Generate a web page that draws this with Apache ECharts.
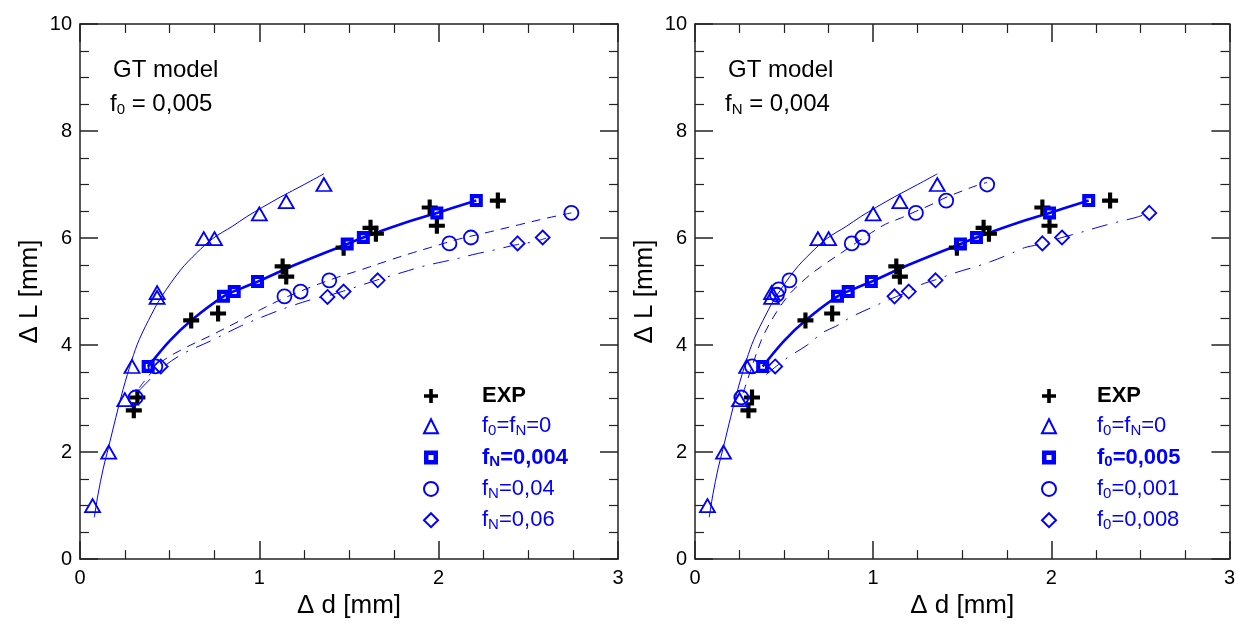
<!DOCTYPE html>
<html>
<head>
<meta charset="utf-8">
<script src="https://cdn.jsdelivr.net/npm/echarts@6/dist/echarts.min.js"></script>
<style>html,body{margin:0;padding:0;background:#fff}#c{width:1238px;height:624px}</style>
</head>
<body>
<div id="c"></div>
<script>
// ---------- data ----------
const xTicks = [0, 1, 2, 3];
const yTicks = [0, 2, 4, 6, 8, 10];

const expX = [0.30, 0.32, 0.62, 0.77, 1.13, 1.15, 1.47, 1.62, 1.65, 1.95, 1.99, 2.33];
const expY = [2.78, 3.02, 4.46, 4.59, 5.47, 5.28, 5.82, 6.19, 6.08, 6.57, 6.23, 6.70];

const triX = [0.07, 0.16, 0.25, 0.29, 0.43, 0.43, 0.69, 0.75, 1.00, 1.15, 1.36];
const triY = [1.00, 2.00, 2.98, 3.60, 4.98, 4.89, 5.99, 5.99, 6.45, 6.68, 7.00];

const sqX = [0.38, 0.80, 0.86, 0.99, 1.49, 1.58, 1.99, 2.21];
const sqY = [3.60, 4.91, 5.00, 5.19, 5.89, 6.01, 6.47, 6.70];

const cirLX = [0.31, 0.42, 1.14, 1.23, 1.39, 2.06, 2.18, 2.74];
const cirLY = [3.02, 3.60, 4.91, 5.00, 5.21, 5.90, 6.01, 6.47];

const diaLX = [0.45, 1.38, 1.47, 1.66, 2.44, 2.58];
const diaLY = [3.60, 4.90, 5.00, 5.21, 5.90, 6.01];

const cirRX = [0.26, 0.32, 0.46, 0.47, 0.53, 0.88, 0.94, 1.24, 1.41, 1.64];
const cirRY = [3.02, 3.60, 4.94, 5.04, 5.21, 5.90, 6.01, 6.47, 6.70, 7.00];

const diaRX = [0.45, 1.12, 1.20, 1.35, 1.95, 2.06, 2.55];
const diaRY = [3.60, 4.91, 5.00, 5.21, 5.90, 6.01, 6.47];

// model curves
const triCurveX = [0.08, 0.10, 0.13, 0.16, 0.20, 0.24, 0.29, 0.33, 0.40, 0.45, 0.56, 0.65, 0.74, 0.85, 0.93, 1.02, 1.12, 1.25, 1.36];
const triCurveY = [0.78, 1.20, 1.70, 2.10, 2.65, 3.17, 3.73, 4.10, 4.58, 4.88, 5.40, 5.72, 5.99, 6.22, 6.40, 6.58, 6.77, 7.00, 7.20];

const sqCurveX = [0.38, 0.50, 0.62, 0.80, 0.90, 1.00, 1.20, 1.49, 1.58, 1.80, 1.99, 2.21];
const sqCurveY = [3.60, 4.08, 4.46, 4.91, 5.06, 5.20, 5.50, 5.89, 6.01, 6.27, 6.47, 6.70];

const cirLCurveX = [0.33, 0.45, 0.57, 0.73, 0.90, 1.00, 1.14, 1.30, 1.43, 1.57, 1.72, 1.86, 1.95, 2.10, 2.29, 2.45, 2.60, 2.74];
const cirLCurveY = [3.20, 3.67, 3.92, 4.18, 4.47, 4.65, 4.88, 5.10, 5.26, 5.41, 5.58, 5.73, 5.82, 5.97, 6.12, 6.25, 6.37, 6.47];

const diaLCurveX = [0.33, 0.45, 0.57, 0.73, 0.90, 1.05, 1.17, 1.30, 1.38, 1.47, 1.67, 1.80, 1.91, 2.00, 2.11, 2.19, 2.30, 2.44, 2.53, 2.60];
const diaLCurveY = [3.15, 3.55, 3.83, 4.08, 4.36, 4.57, 4.72, 4.86, 4.92, 5.01, 5.23, 5.36, 5.47, 5.54, 5.62, 5.69, 5.77, 5.88, 5.93, 6.00];

const cirRCurveX = [0.27, 0.32, 0.38, 0.46, 0.53, 0.60, 0.66, 0.74, 0.82, 0.90, 0.99, 1.07, 1.16, 1.24, 1.33, 1.41, 1.50, 1.58, 1.64];
const cirRCurveY = [3.10, 3.60, 4.15, 4.63, 4.95, 5.18, 5.35, 5.54, 5.72, 5.90, 6.10, 6.26, 6.38, 6.50, 6.63, 6.76, 6.88, 6.98, 7.04];

const diaRCurveX = [0.40, 0.47, 0.53, 0.63, 0.72, 0.79, 0.88, 0.99, 1.09, 1.20, 1.27, 1.35, 1.46, 1.58, 1.66, 1.76, 1.85, 1.93, 2.06, 2.16, 2.25, 2.36, 2.47, 2.55];
const diaRCurveY = [3.45, 3.64, 3.79, 4.00, 4.24, 4.35, 4.53, 4.70, 4.85, 5.00, 5.13, 5.22, 5.35, 5.47, 5.56, 5.69, 5.82, 5.88, 6.01, 6.10, 6.19, 6.29, 6.38, 6.47];

const legendLeft = ['EXP', 'f0=fN=0', 'fN=0,004', 'fN=0,04', 'fN=0,06'];
const legendRight = ['EXP ', 'f0=fN=0 ', 'f0=0,005', 'f0=0,001', 'f0=0,008'];

// ---------- helpers ----------
const FONT = '"Liberation Sans", Arial, sans-serif';
const BLUE = '#0000ff';
const AX = '#222';
const zip = (xs, ys) => xs.map((x, i) => [x, ys[i]]);

const plusPath = 'path://M0,3.7h3.7v-3.7h2.6v3.7h3.7v2.6h-3.7v3.7h-2.6v-3.7h-3.7z';
const sqPath = 'path://M0,0H10V10H0Z M3.2,3.2V6.8H6.8V3.2Z';

function xAxes(gi) {
  const base = {
    gridIndex: gi, type: 'value', min: 0, max: 3, interval: 1,
    axisLine: { show: true, onZero: false, lineStyle: { color: AX, width: 1.5 } },
    axisTick: { show: true, inside: true, length: 18, lineStyle: { color: AX, width: 1.5 } },
    minorTick: { show: true, splitNumber: 4, length: 9, lineStyle: { color: AX, width: 1.2 } },
    splitLine: { show: false }, minorSplitLine: { show: false }
  };
  return [
    Object.assign({}, base, {
      position: 'bottom',
      axisLabel: { fontSize: 20, color: '#000', fontFamily: FONT, margin: 9,
        formatter: v => xTicks.includes(v) ? String(v) : '' },
      name: 'Δ d [mm]', nameLocation: 'middle', nameGap: 33,
      nameTextStyle: { fontSize: 26, color: '#000', fontFamily: FONT }
    }),
    Object.assign({}, base, { position: 'top', axisLabel: { show: false } })
  ];
}
function yAxes(gi) {
  const base = {
    gridIndex: gi, type: 'value', min: 0, max: 10, interval: 2,
    axisLine: { show: true, onZero: false, lineStyle: { color: AX, width: 1.5 } },
    axisTick: { show: true, inside: true, length: 18, lineStyle: { color: AX, width: 1.5 } },
    minorTick: { show: true, splitNumber: 4, length: 9, lineStyle: { color: AX, width: 1.2 } },
    splitLine: { show: false }, minorSplitLine: { show: false }
  };
  return [
    Object.assign({}, base, {
      position: 'left',
      axisLabel: { fontSize: 20, color: '#000', fontFamily: FONT, margin: 8,
        formatter: v => yTicks.includes(v) ? String(v) : '' },
      name: 'Δ L [mm]', nameLocation: 'middle', nameGap: 37, nameRotate: 90,
      nameTextStyle: { fontSize: 26, color: '#000', fontFamily: FONT }
    }),
    Object.assign({}, base, { position: 'right', axisLabel: { show: false } })
  ];
}

function curve(name, gi, xs, ys, width, type) {
  return {
    name, type: 'line', xAxisIndex: gi * 2, yAxisIndex: gi * 2,
    data: zip(xs, ys), showSymbol: false, symbol: 'none', smooth: 0.35,
    lineStyle: { color: BLUE, width, type, opacity: 1 }, z: 2, silent: true
  };
}
function pts(name, gi, xs, ys, symbol, size, style) {
  return {
    name, type: 'scatter', xAxisIndex: gi * 2, yAxisIndex: gi * 2,
    data: zip(xs, ys), symbol, symbolSize: size,
    itemStyle: Object.assign({ opacity: 1 }, style), z: 5
  };
}
const hollow = { color: 'rgba(255,255,255,0)', borderColor: BLUE, borderWidth: 1.8 };

const richBase = {
  n: { fontSize: 22, color: BLUE, fontFamily: FONT, lineHeight: 24 },
  s: { fontSize: 15, color: BLUE, fontFamily: FONT, lineHeight: 14, verticalAlign: 'bottom' },
  b: { fontSize: 22, color: BLUE, fontFamily: FONT, fontWeight: 'bold', lineHeight: 24 },
  bs: { fontSize: 15, color: BLUE, fontFamily: FONT, fontWeight: 'bold', lineHeight: 14, verticalAlign: 'bottom' },
  k: { fontSize: 22, color: '#000', fontFamily: FONT, fontWeight: 'bold', lineHeight: 24 }
};
const legendRich = {
  'EXP': '{k|EXP}', 'EXP ': '{k|EXP}',
  'f0=fN=0': '{n|f}{s|0}{n|=f}{s|N}{n|=0}', 'f0=fN=0 ': '{n|f}{s|0}{n|=f}{s|N}{n|=0}',
  'fN=0,004': '{b|f}{bs|N}{b|=0,004}',
  'fN=0,04': '{n|f}{s|N}{n|=0,04}',
  'fN=0,06': '{n|f}{s|N}{n|=0,06}',
  'f0=0,005': '{b|f}{bs|0}{b|=0,005}',
  'f0=0,001': '{n|f}{s|0}{n|=0,001}',
  'f0=0,008': '{n|f}{s|0}{n|=0,008}'
};
function legend(left, data, pad) {
  return {
    orient: 'vertical', left, top: 380, itemWidth: 14, itemHeight: 14, itemGap: 8.3,
    data, selectedMode: false,
    formatter: n => legendRich[n],
    textStyle: { padding: [0, 0, 0, pad], rich: richBase }
  };
}

function annot(x, sub, val) {
  return [
    { type: 'text', x: x + 3, y: 70, style: { text: 'GT model', fontSize: 24, fontFamily: FONT, fill: '#000', verticalAlign: 'middle' } },
    { type: 'text', x: x, y: 104, style: { text: '{m|f}{s|' + sub + '}{m| = ' + val + '}', verticalAlign: 'middle',
        rich: { m: { fontSize: 24, fontFamily: FONT, color: '#000', lineHeight: 26 },
                s: { fontSize: 15, fontFamily: FONT, color: '#000', lineHeight: 14, verticalAlign: 'bottom' } } } }
  ];
}

const option = {
  animation: false,
  backgroundColor: '#fff',
  grid: [
    { left: 80, top: 24, width: 538, height: 536 },
    { left: 695, top: 24, width: 537, height: 536 }
  ],
  xAxis: [...xAxes(0), ...xAxes(1)],
  yAxis: [...yAxes(0), ...yAxes(1)],
  legend: [legend(418, legendLeft, 39), legend(1036, legendRight, 36)],
  graphic: [...annot(110, '0', '0,005'), ...annot(725, 'N', '0,004')],
  series: [
    // left
    curve('triCurveL', 0, triCurveX, triCurveY, 1, 'solid'),
    curve('cirCurveL', 0, cirLCurveX, cirLCurveY, 1, [9, 7]),
    curve('diaCurveL', 0, diaLCurveX, diaLCurveY, 1, [16, 9, 2, 9]),
    curve('sqCurveL', 0, sqCurveX, sqCurveY, 2.6, 'solid'),
    pts('EXP', 0, expX, expY, plusPath, 16, { color: '#000' }),
    pts('f0=fN=0', 0, triX, triY, 'triangle', [15, 13], hollow),
    pts('fN=0,004', 0, sqX, sqY, sqPath, 13, { color: BLUE }),
    pts('fN=0,04', 0, cirLX, cirLY, 'circle', 14, hollow),
    pts('fN=0,06', 0, diaLX, diaLY, 'diamond', 14, hollow),
    // right
    curve('triCurveR', 1, triCurveX, triCurveY, 1, 'solid'),
    curve('cirCurveR', 1, cirRCurveX, cirRCurveY, 1, [9, 7]),
    curve('diaCurveR', 1, diaRCurveX, diaRCurveY, 1, [16, 9, 2, 9]),
    curve('sqCurveR', 1, sqCurveX, sqCurveY, 2.6, 'solid'),
    pts('EXP ', 1, expX, expY, plusPath, 16, { color: '#000' }),
    pts('f0=fN=0 ', 1, triX, triY, 'triangle', [15, 13], hollow),
    pts('f0=0,005', 1, sqX, sqY, sqPath, 13, { color: BLUE }),
    pts('f0=0,001', 1, cirRX, cirRY, 'circle', 14, hollow),
    pts('f0=0,008', 1, diaRX, diaRY, 'diamond', 14, hollow)
  ]
};

const chart = echarts.init(document.getElementById('c'), null, { renderer: 'canvas' });
chart.setOption(option);
</script>
</body>
</html>
